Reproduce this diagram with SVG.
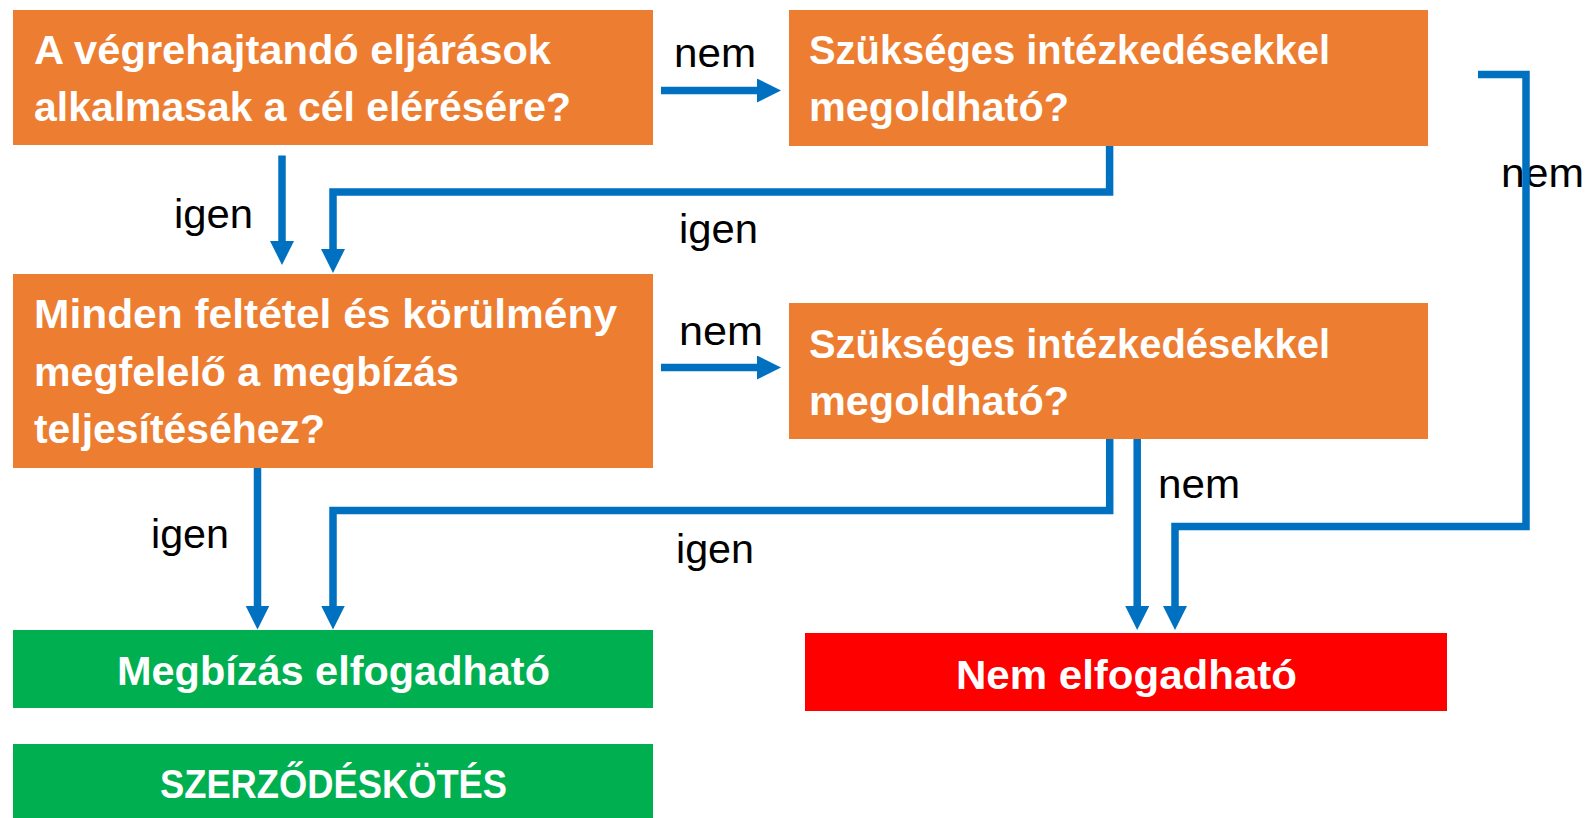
<svg xmlns="http://www.w3.org/2000/svg" width="1588" height="818" viewBox="0 0 1588 818">
<style>
.q{fill:#ED7D31}
.ok{fill:#00B050}
.no{fill:#FF0000}
.t{font-family:"Liberation Sans",Arial,sans-serif;font-weight:bold;font-size:41px;fill:#FFFFFF}
.l{font-family:"Liberation Sans",Arial,sans-serif;font-size:40px;fill:#000000}
.c{fill:none;stroke:#0070C0;stroke-width:7.5;stroke-linejoin:miter;stroke-linecap:butt}
</style>
<defs>
<marker id="ah" markerUnits="userSpaceOnUse" markerWidth="26" markerHeight="26" refX="1" refY="12" orient="auto" viewBox="0 0 26 26">
<path d="M0,0 L24,12 L0,24 Z" fill="#0070C0"/>
</marker>
</defs>
<rect width="1588" height="818" fill="#FFFFFF"/>
<g id="q1">
<rect class="q" x="13" y="10" width="640" height="135"/>
<text class="t" x="34" y="63.5" textLength="517" lengthAdjust="spacingAndGlyphs">A végrehajtandó eljárások</text>
<text class="t" x="34" y="121" textLength="537" lengthAdjust="spacingAndGlyphs">alkalmasak a cél elérésére?</text>
</g>
<g id="q2">
<rect class="q" x="789" y="10" width="639" height="136"/>
<text class="t" x="809" y="63.5" textLength="521" lengthAdjust="spacingAndGlyphs">Szükséges intézkedésekkel</text>
<text class="t" x="809" y="120.5" textLength="260" lengthAdjust="spacingAndGlyphs">megoldható?</text>
</g>
<g id="q3">
<rect class="q" x="13" y="274" width="640" height="194"/>
<text class="t" x="34" y="328" textLength="583" lengthAdjust="spacingAndGlyphs">Minden feltétel és körülmény</text>
<text class="t" x="34" y="385.5" textLength="425" lengthAdjust="spacingAndGlyphs">megfelelő a megbízás</text>
<text class="t" x="34" y="443" textLength="291" lengthAdjust="spacingAndGlyphs">teljesítéséhez?</text>
</g>
<g id="q4">
<rect class="q" x="789" y="303" width="639" height="136"/>
<text class="t" x="809" y="357.5" textLength="521" lengthAdjust="spacingAndGlyphs">Szükséges intézkedésekkel</text>
<text class="t" x="809" y="414.5" textLength="260" lengthAdjust="spacingAndGlyphs">megoldható?</text>
</g>
<g id="accept">
<rect class="ok" x="13" y="630" width="640" height="78"/>
<text class="t" x="117" y="685" textLength="433" lengthAdjust="spacingAndGlyphs">Megbízás elfogadható</text>
</g>
<g id="reject">
<rect class="no" x="805" y="633" width="642" height="78"/>
<text class="t" x="956" y="688.5" textLength="341" lengthAdjust="spacingAndGlyphs">Nem elfogadható</text>
</g>
<g id="contract">
<rect class="ok" x="13" y="744" width="640" height="74"/>
<text class="t" x="160" y="798" textLength="347" lengthAdjust="spacingAndGlyphs">SZERZŐDÉSKÖTÉS</text>
</g>
<g id="labels">
<text class="l" x="674" y="67" textLength="82" lengthAdjust="spacingAndGlyphs">nem</text>
<text class="l" x="174" y="228" textLength="79" lengthAdjust="spacingAndGlyphs">igen</text>
<text class="l" x="679" y="243" textLength="79" lengthAdjust="spacingAndGlyphs">igen</text>
<text class="l" x="1501" y="187" textLength="83" lengthAdjust="spacingAndGlyphs">nem</text>
<text class="l" x="679" y="345" textLength="84" lengthAdjust="spacingAndGlyphs">nem</text>
<text class="l" x="151" y="548" textLength="78" lengthAdjust="spacingAndGlyphs">igen</text>
<text class="l" x="676" y="563" textLength="78" lengthAdjust="spacingAndGlyphs">igen</text>
<text class="l" x="1158" y="498" textLength="82" lengthAdjust="spacingAndGlyphs">nem</text>
</g>
<g id="connectors">
<path class="c" d="M661,90.5 H758" marker-end="url(#ah)"/>
<path class="c" d="M282,155.5 V242" marker-end="url(#ah)"/>
<path class="c" d="M1109.6,146 V192 H333 V250" marker-end="url(#ah)"/>
<path class="c" d="M1478,74.5 H1526 V526.5 H1175 V607" marker-end="url(#ah)"/>
<path class="c" d="M661,367.5 H758" marker-end="url(#ah)"/>
<path class="c" d="M257.5,468 V606.5" marker-end="url(#ah)"/>
<path class="c" d="M1109.7,439 V510.5 H333 V606.5" marker-end="url(#ah)"/>
<path class="c" d="M1137.2,439 V607" marker-end="url(#ah)"/>
</g>
</svg>
